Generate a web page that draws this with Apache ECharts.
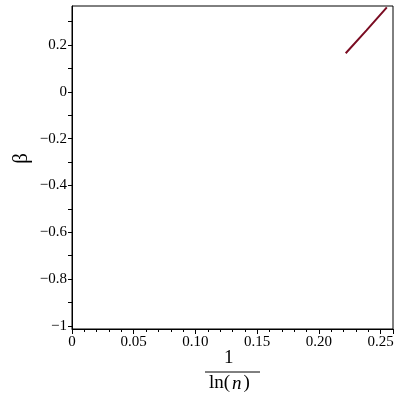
<!DOCTYPE html>
<html>
<head>
<meta charset="utf-8">
<script src="https://cdn.jsdelivr.net/npm/echarts@6/dist/echarts.min.js"></script>
<style>
  html, body { margin: 0; padding: 0; background: #fff; }
  #main { width: 400px; height: 400px; }
</style>
</head>
<body>
<div id="main"></div>
<script>
// beta against 1/ln(n)
var xValues = [0.2217, 0.2385, 0.2550];
var betaValues = [0.165, 0.263, 0.361];
var yLabelValues = [-1, -0.8, -0.6, -0.4, -0.2, 0, 0.2];
var yTickValues = [-1, -0.9, -0.8, -0.7, -0.6, -0.5, -0.4, -0.3, -0.2, -0.1, 0, 0.1, 0.2, 0.3];

var chart = echarts.init(document.getElementById('main'), null, { renderer: 'canvas' });

var serif = '"Liberation Serif", "DejaVu Serif", serif';

function fmtX(v) {
  if (Math.abs(v) < 1e-9) return '0';
  return v.toFixed(2);
}
function fmtY(v) {
  if (Math.abs(v) < 1e-9) return '0';
  var s = Math.abs(v) === 1 ? '1' : Math.abs(v).toFixed(1);
  return (v < 0 ? '\u2212' : '') + s;
}

var option = {
  animation: false,
  grid: {
    left: 72, top: 6, right: 7, bottom: 71,
    show: true, borderColor: '#000', borderWidth: 1
  },
  xAxis: {
    type: 'value',
    min: 0, max: 0.26, interval: 0.05,
    axisLine: { show: true, onZero: false, lineStyle: { color: '#000', width: 1 } },
    axisTick: { show: true, inside: false, length: 5, lineStyle: { color: '#000' } },
    minorTick: { show: true, splitNumber: 5, length: 3, lineStyle: { color: '#000' } },
    splitLine: { show: false },
    axisLabel: {
      formatter: fmtX, color: '#000', fontFamily: serif, fontSize: 15, margin: 6,
      showMaxLabel: false
    }
  },
  yAxis: {
    type: 'value',
    min: -1.013, max: 0.367,
    axisLine: { show: true, onZero: false, lineStyle: { color: '#000', width: 1 } },
    axisTick: { show: true, inside: false, length: 4, customValues: yTickValues, lineStyle: { color: '#000' } },
    minorTick: { show: false },
    splitLine: { show: false },
    axisLabel: {
      formatter: fmtY, color: '#000', fontFamily: serif, fontSize: 15, margin: 5,
      customValues: yLabelValues
    }
  },
  series: [{
    type: 'line',
    data: xValues.map(function (x, i) { return [x, betaValues[i]]; }),
    showSymbol: false,
    lineStyle: { color: '#7a0c22', width: 2 }
  }],
  graphic: [
    {
      type: 'text', left: 11, top: 153, rotation: Math.PI / 2,
      style: { text: '\u03b2', font: '21px ' + serif, fill: '#000' }
    },
    {
      type: 'text', left: 224, top: 349,
      style: { text: '1', font: '19px ' + serif, fill: '#000' }
    },
    {
      type: 'line', shape: { x1: 205, y1: 372, x2: 260, y2: 372 },
      style: { stroke: '#000', lineWidth: 1 }
    },
    {
      type: 'text', left: 209, top: 374,
      style: {
        text: '{a|ln(}{b|n}{a|)}',
        rich: {
          a: { font: '19px ' + serif, fill: '#000' },
          b: { font: 'italic 19px ' + serif, fill: '#000', padding: [0, 2, 0, 2] }
        }
      }
    }
  ]
};

chart.setOption(option);
</script>
</body>
</html>
